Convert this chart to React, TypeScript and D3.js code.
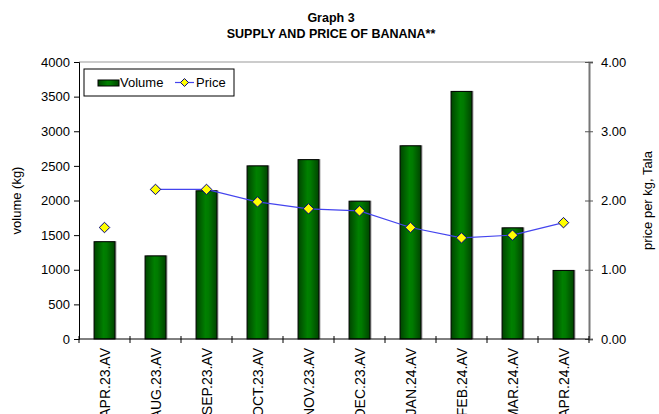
import { useEffect, useRef } from "react";
import * as d3 from "d3";

const CATEGORIES = [
	"APR.23.AV", "AUG.23.AV", "SEP.23.AV", "OCT.23.AV", "NOV.23.AV",
	"DEC.23.AV", "JAN.24.AV", "FEB.24.AV", "MAR.24.AV", "APR.24.AV",
];
const VOLUME = [1405, 1200, 2140, 2500, 2590, 1990, 2790, 3575, 1605, 990];
const PRICE = [1.61, 2.16, 2.16, 1.98, 1.88, 1.85, 1.61, 1.46, 1.50, 1.68];
// the price line is broken after the first month (no data between APR and AUG)
const LINE_STARTS_AT = 1;

const VOLUME_TICKS = [0, 500, 1000, 1500, 2000, 2500, 3000, 3500, 4000];
const PRICE_TICKS = [0, 1, 2, 3, 4];

const FONT = "Liberation Sans, Arial, sans-serif";

export default function App() {
	const ref = useRef<SVGSVGElement>(null);

	useEffect(() => {
		const svg = d3.select(ref.current);
		svg.selectAll("*").remove();

		// plot area
		const left = 79, right = 589, top = 62, bottom = 339;

		const x = d3.scaleBand<string>()
			.domain(CATEGORIES)
			.range([left, right])
			.paddingInner(0.59)
			.paddingOuter(0.295);

		const yVol = d3.scaleLinear().domain([0, 4000]).range([bottom, top]);
		const yPrice = d3.scaleLinear().domain([0, 4]).range([bottom, top]);

		// bar gradient
		const defs = svg.append("defs");
		const grad = defs.append("linearGradient")
			.attr("id", "barGrad")
			.attr("x1", "0%").attr("x2", "100%")
			.attr("y1", "0%").attr("y2", "0%");
		grad.append("stop").attr("offset", "0%").attr("stop-color", "#004400");
		grad.append("stop").attr("offset", "45%").attr("stop-color", "#008000");
		grad.append("stop").attr("offset", "60%").attr("stop-color", "#007a00");
		grad.append("stop").attr("offset", "100%").attr("stop-color", "#004400");

		// Title
		svg.append("text")
			.attr("x", 331).attr("y", 22)
			.attr("text-anchor", "middle")
			.attr("font-family", FONT)
			.attr("font-weight", "bold")
			.attr("font-size", "12.5px")
			.text("Graph 3");
		svg.append("text")
			.attr("x", 331).attr("y", 38)
			.attr("text-anchor", "middle")
			.attr("font-family", FONT)
			.attr("font-weight", "bold")
			.attr("font-size", "12.5px")
			.text("SUPPLY AND PRICE OF BANANA**");

		// top border of plot area
		svg.append("line")
			.attr("x1", left).attr("x2", right)
			.attr("y1", top).attr("y2", top)
			.attr("stroke", "#999").attr("stroke-width", 1);

		// bars: shadow then bar
		const bw = x.bandwidth();
		svg.append("g").selectAll("rect")
			.data(VOLUME)
			.join("rect")
			.attr("x", (_, i) => x(CATEGORIES[i])! + 1.5)
			.attr("y", d => yVol(d) - 0.5)
			.attr("width", bw)
			.attr("height", d => bottom - yVol(d) + 0.5)
			.attr("fill", "#a0a0a0");

		svg.append("g").selectAll("rect")
			.data(VOLUME)
			.join("rect")
			.attr("x", (_, i) => x(CATEGORIES[i])!)
			.attr("y", d => yVol(d))
			.attr("width", bw)
			.attr("height", d => bottom - yVol(d))
			.attr("fill", "url(#barGrad)")
			.attr("stroke", "#000")
			.attr("stroke-width", 1);

		// Left axis
		const yAxisL = svg.append("g")
			.attr("transform", `translate(${left},0)`)
			.call(d3.axisLeft(yVol).tickValues(VOLUME_TICKS).tickSize(5).tickPadding(4).tickFormat(d3.format("d")));
		yAxisL.select(".domain").attr("stroke", "#000");
		yAxisL.selectAll("text")
			.attr("font-family", FONT)
			.attr("font-size", "13px")
			.attr("fill", "#000");

		// Right axis (ticks cross the line)
		const yAxisR = svg.append("g")
			.attr("transform", `translate(${right},0)`)
			.call(d3.axisRight(yPrice).tickValues(PRICE_TICKS).tickSize(4).tickPadding(8).tickFormat(d3.format(".2f")));
		yAxisR.select(".domain").attr("stroke", "#777").attr("stroke-width", 2);
		yAxisR.selectAll(".tick line").attr("x1", -4).attr("stroke", "#555");
		yAxisR.selectAll("text")
			.attr("font-family", FONT)
			.attr("font-size", "13px")
			.attr("fill", "#000");

		// Bottom axis: ticks at category boundaries
		const step = x.step();
		const start = x(CATEGORIES[0])! - (step - bw) / 2;
		const bounds = d3.range(CATEGORIES.length + 1).map(i => start + i * step);
		svg.append("line")
			.attr("x1", left).attr("x2", right)
			.attr("y1", bottom).attr("y2", bottom)
			.attr("stroke", "#000");
		svg.append("g").selectAll("line")
			.data(bounds)
			.join("line")
			.attr("x1", d => d).attr("x2", d => d)
			.attr("y1", bottom - 3).attr("y2", bottom + 4)
			.attr("stroke", "#000");

		// x labels rotated
		svg.append("g").selectAll("text")
			.data(CATEGORIES)
			.join("text")
			.attr("transform", d => `translate(${x(d)! + bw / 2 + 5},${bottom + 9}) rotate(-90)`)
			.attr("text-anchor", "end")
			.attr("font-family", FONT)
			.attr("font-size", "14px")
			.text(d => d);

		// Price line
		const pts = PRICE.map((p, i) => ({ p, i }));
		const line = d3.line<{ p: number; i: number }>()
			.defined(d => d.i >= LINE_STARTS_AT)
			.x(d => x(CATEGORIES[d.i])! + bw / 2)
			.y(d => yPrice(d.p));
		svg.append("path")
			.datum(pts)
			.attr("d", line)
			.attr("fill", "none")
			.attr("stroke", "#4444ee")
			.attr("stroke-width", 1.2);

		const diamond = d3.symbol().type(d3.symbolDiamond2).size(70);
		svg.append("g").selectAll("path")
			.data(pts)
			.join("path")
			.attr("transform", d => `translate(${x(CATEGORIES[d.i])! + bw / 2},${yPrice(d.p)})`)
			.attr("d", diamond)
			.attr("fill", "#ffff00")
			.attr("stroke", "#000080")
			.attr("stroke-width", 1);

		// Axis titles
		svg.append("text")
			.attr("transform", `translate(21,${(top + bottom) / 2}) rotate(-90)`)
			.attr("text-anchor", "middle")
			.attr("font-family", FONT)
			.attr("font-size", "13px")
			.text("volume (kg)");
		svg.append("text")
			.attr("transform", `translate(652,${(top + bottom) / 2}) rotate(-90)`)
			.attr("text-anchor", "middle")
			.attr("font-family", FONT)
			.attr("font-size", "13px")
			.text("price per kg, Tala");

		// Legend
		const legend = svg.append("g").attr("transform", "translate(84,69)");
		legend.append("rect")
			.attr("width", 150).attr("height", 27)
			.attr("fill", "#fff").attr("stroke", "#000");
		legend.append("rect")
			.attr("x", 14).attr("y", 11)
			.attr("width", 21).attr("height", 6)
			.attr("fill", "url(#barGrad)")
			.attr("stroke", "#000");
		legend.append("text")
			.attr("x", 36).attr("y", 18)
			.attr("font-family", FONT)
			.attr("font-size", "13px")
			.text("Volume");
		legend.append("line")
			.attr("x1", 91).attr("x2", 110)
			.attr("y1", 13.5).attr("y2", 13.5)
			.attr("stroke", "#4444ee").attr("stroke-width", 1.2);
		legend.append("path")
			.attr("transform", "translate(100.5,13.5)")
			.attr("d", d3.symbol().type(d3.symbolDiamond2).size(40)())
			.attr("fill", "#ffff00")
			.attr("stroke", "#000080");
		legend.append("text")
			.attr("x", 112).attr("y", 18)
			.attr("font-family", FONT)
			.attr("font-size", "13px")
			.text("Price");
	}, []);

	return (
		<div style={{ position: "fixed", left: 0, top: 0 }}>
			<svg ref={ref} width={659} height={414} style={{ display: "block", background: "#fff" }} />
		</div>
	);
}
